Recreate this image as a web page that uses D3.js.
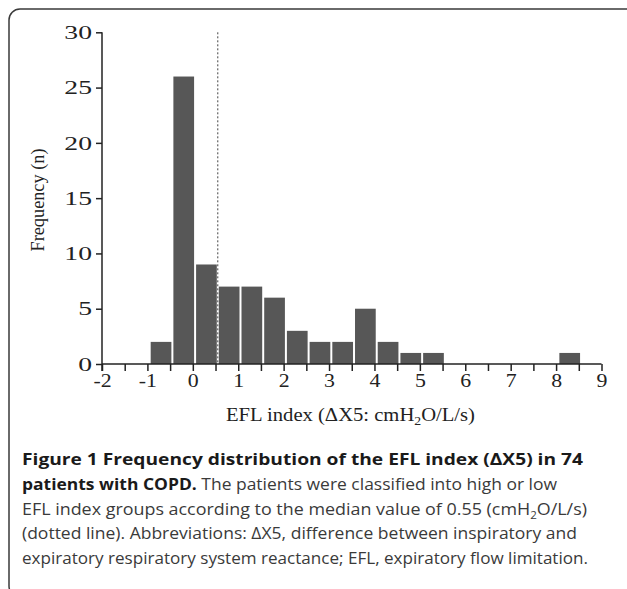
<!DOCTYPE html>
<html>
<head>
<meta charset="utf-8">
<script src="https://cdn.jsdelivr.net/npm/d3@7"></script>
<style>
  html, body { margin: 0; padding: 0; background: #fff; }
  svg { display: block; }
</style>
</head>
<body>
<svg id="chart" width="627" height="589"></svg>
<script>
// ---- data ----
const binStarts = [-0.95, -0.45, 0.05, 0.55, 1.05, 1.55, 2.05, 2.55, 3.05, 3.55, 4.05, 4.55, 5.05, 8.05];
const binCounts = [2, 26, 9, 7, 7, 6, 3, 2, 2, 5, 2, 1, 1, 1];
const binWidth = 0.5;
const medianValue = 0.55;
const xTickValues = d3.range(-2, 9.001, 0.5);
const yTickValues = [0, 5, 10, 15, 20, 25, 30];
const captionLines = [
  [{t: "Figure 1 Frequency distribution of the EFL index (\u0394X5) in 74", b: true}],
  [{t: "patients with COPD.", b: true}, {t: " The patients were classified into high or low"}],
  [{t: "EFL index groups according to the median value of 0.55 (cmH"}, {t: "2", sub: true}, {t: "O/L/s)"}],
  [{t: "(dotted line). Abbreviations: \u0394X5, difference between inspiratory and"}],
  [{t: "expiratory respiratory system reactance; EFL, expiratory flow limitation."}]
];
const captionTargetRight = [583, 557, 587, 577, 588];

const svg = d3.select("#chart");

// frame
svg.append("rect")
  .attr("x", 9).attr("y", 9).attr("width", 628).attr("height", 588)
  .attr("rx", 11).attr("ry", 11)
  .attr("fill", "none").attr("stroke", "#3a3a3a").attr("stroke-width", 1.5);

const x = d3.scaleLinear().domain([-2, 9]).range([102, 601.5]);
const y = d3.scaleLinear().domain([0, 30]).range([364, 32.3]);

const serif = "'Liberation Serif', 'Times New Roman', serif";

// bars
const bars = binStarts.map((s, i) => ({x0: s, x1: s + binWidth, n: binCounts[i]}));
svg.append("g").selectAll("rect").data(bars).join("rect")
  .attr("x", d => x(d.x0) + 1)
  .attr("width", d => x(d.x1) - x(d.x0) - 2)
  .attr("y", d => y(d.n))
  .attr("height", d => y(0) - y(d.n))
  .attr("fill", "#575757");

// median dotted line
svg.append("line")
  .attr("x1", x(medianValue)).attr("x2", x(medianValue))
  .attr("y1", y(30)).attr("y2", y(0))
  .attr("stroke", "#444").attr("stroke-width", 1)
  .attr("stroke-dasharray", "2,2");

// x axis
const xAxis = d3.axisBottom(x)
  .tickValues(xTickValues)
  .tickSize(7).tickPadding(3)
  .tickFormat(d => Number.isInteger(d) ? String(d) : "");
const gx = svg.append("g").attr("transform", `translate(0,${y(0)})`).call(xAxis);
gx.select(".domain").attr("d", `M${x(-2)},0H${x(9)}`).attr("stroke", "#222").attr("stroke-width", 1.5);
gx.selectAll(".tick line").attr("stroke", "#222").attr("stroke-width", 1.5);
gx.selectAll("text").attr("font-family", serif).attr("font-size", 19).attr("fill", "#222")
  .attr("transform", "scale(1.15,1)")
  .attr("x", 0);
// keep x labels centred on their ticks after horizontal stretch
gx.selectAll(".tick text").attr("transform", "scale(1.15,1)");

// y axis
const yAxis = d3.axisLeft(y).tickValues(yTickValues).tickSize(6).tickPadding(4);
const gy = svg.append("g").attr("transform", `translate(${x(-2)},0)`).call(yAxis);
gy.select(".domain").attr("d", `M0,${y(30)}V${y(0) + 7}`).attr("stroke", "#222").attr("stroke-width", 1.5);
gy.selectAll(".tick line").attr("stroke", "#222").attr("stroke-width", 1.5);
gy.selectAll("text").attr("font-family", serif).attr("font-size", 19.5).attr("fill", "#222")
  .attr("transform", function() {
    const xx = +this.getAttribute("x");
    return `translate(${xx},0) scale(1.42,1) translate(${-xx},0)`;
  });

// axis titles
const xt = svg.append("text")
  .attr("x", 350.5).attr("y", 421)
  .attr("text-anchor", "middle")
  .attr("font-family", serif).attr("font-size", 18).attr("fill", "#222");
xt.append("tspan").text("EFL index (\u0394X5: cmH");
xt.append("tspan").attr("font-size", 12).attr("dy", 4).text("2");
xt.append("tspan").attr("dy", -4).text("O/L/s)");
xt.attr("textLength", 249).attr("lengthAdjust", "spacingAndGlyphs");

svg.append("text")
  .attr("transform", "translate(44,200) rotate(-90)")
  .attr("text-anchor", "middle")
  .attr("font-family", serif).attr("font-size", 18).attr("fill", "#222")
  .attr("textLength", 103).attr("lengthAdjust", "spacingAndGlyphs")
  .text("Frequency (n)");

// caption
const capFont = "'Open Sans', 'Noto Sans', sans-serif";
const baselines = [465, 490, 514.5, 539, 563.5];
captionLines.forEach((line, i) => {
  const t = svg.append("text")
    .attr("x", 22).attr("y", baselines[i])
    .attr("font-family", capFont).attr("font-size", 15.5);
  let subbed = false;
  line.forEach(seg => {
    const ts = t.append("tspan").text(seg.t)
      .attr("font-weight", seg.b ? 700 : 400)
      .attr("fill", seg.b ? "#1a1a1a" : "#3a3a3a");
    if (seg.sub) { ts.attr("font-size", 10).attr("dy", 4); subbed = true; }
    else if (subbed) { ts.attr("dy", -4); subbed = false; }
  });
  t.attr("textLength", captionTargetRight[i] - 22).attr("lengthAdjust", "spacingAndGlyphs");
});
</script>
</body>
</html>
